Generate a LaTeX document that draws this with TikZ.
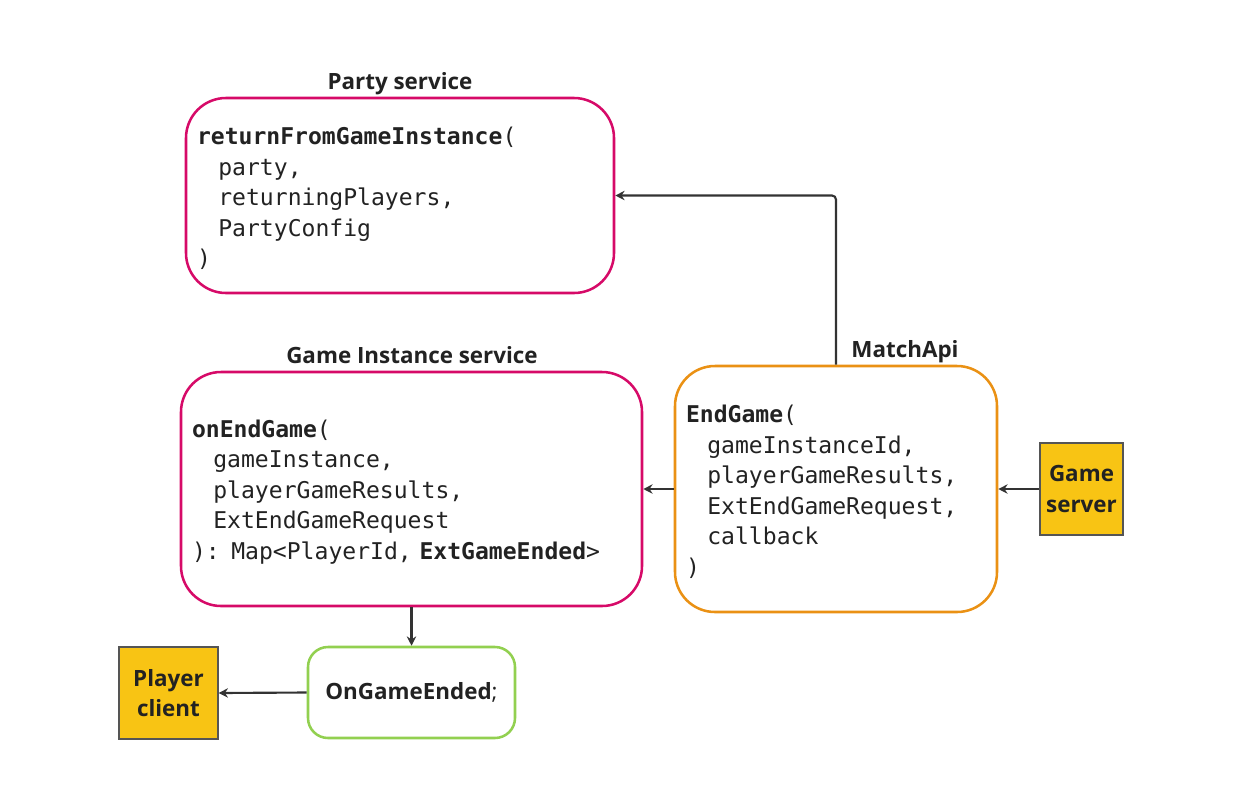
\documentclass[tikz,border=0pt]{standalone}
\usepackage{fontspec}
\setmainfont{Open Sans}
\setmonofont{DejaVu Sans Mono}
\usetikzlibrary{arrows.meta}

% code text and indent
\newcommand{\codefont}{\ttfamily\fontsize{17.3}{22.9}\selectfont}
\newcommand{\ind}{\hspace*{16pt}}
\newcommand{\firstline}{\rule{0pt}{17.5pt}}

\begin{document}
\begin{tikzpicture}[x=0.75pt,y=-0.75pt,
  svcbox/.style={draw, rounded corners=30pt, line width=1.9pt, align=left,
    inner xsep=8.25pt, inner ysep=0pt, font=\codefont, text=textdark},
  svctitle/.style={font=\bfseries\fontsize{16.8}{20}\selectfont, text=textdark},
  extbox/.style={draw=boxgray, fill=extyellow, line width=0.9pt, align=center,
    inner sep=0pt, minimum width=62.25pt, minimum height=69pt,
    font=\bfseries\fontsize{16.8}{23}\selectfont, text=textdark},
  conn/.style={-{Stealth[length=7pt,width=7pt]}, line width=1.6pt, draw=arrowgray}]

  % Define colors
  \definecolor{svcmagenta}{RGB}{214,10,104}
  \definecolor{apiorange}{RGB}{234,145,20}
  \definecolor{evgreen}{RGB}{146,208,80}
  \definecolor{extyellow}{RGB}{248,196,20}
  \definecolor{boxgray}{RGB}{85,85,85}
  \definecolor{arrowgray}{RGB}{51,51,51}
  \definecolor{textdark}{RGB}{34,34,34}

  \useasboundingbox (0,0) rectangle (1242,804);

  % Party service
  \node[svctitle] (partytitle) at (400,84) {Party service};
  \node[svcbox, draw=svcmagenta, minimum width=321pt, minimum height=146.25pt,
    text width=304.5pt] (party) at (400,195.5)
    {\firstline\textbf{returnFromGameInstance}(\\
     \ind party,\\
     \ind returningPlayers,\\
     \ind PartyConfig\\
     )};

  % Game Instance service
  \node[svctitle] (gititle) at (412,355) {Game Instance service};
  \node[svcbox, draw=svcmagenta, minimum width=345.75pt, minimum height=175.5pt,
    text width=329.25pt] (gi) at (411.5,489)
    {\firstline\textbf{onEndGame}(\\
     \ind gameInstance,\\
     \ind playerGameResults,\\
     \ind ExtEndGameRequest\\
     ): Map<PlayerId, \textbf{ExtGameEnded}>};

  % MatchApi
  \node[svctitle] (matchtitle) at (905,352) {MatchApi};
  \node[svcbox, draw=apiorange, minimum width=241.5pt, minimum height=184.5pt,
    text width=225pt] (match) at (836,489)
    {\firstline\textbf{EndGame}(\\
     \ind gameInstanceId,\\
     \ind playerGameResults,\\
     \ind ExtEndGameRequest,\\
     \ind callback\\
     )};

  % event sent to the client
  \node[draw=evgreen, rounded corners=15pt, line width=1.9pt, minimum width=155.25pt,
    minimum height=68.25pt, font=\fontsize{16.8}{20}\selectfont, text=textdark]
    (ended) at (411.5,692.5) {\textbf{OnGameEnded};};

  % external actors
  \node[extbox] (gserver) at (1081.5,489) {Game\\server};
  \node[extbox, minimum width=74.25pt] (pclient) at (168.5,693) {Player\\client};

  % calls
  \draw[conn, rounded corners=3pt] (match.north) |- (party.east);
  \draw[conn] (match.west) -- (gi.east);
  \draw[conn] (gserver.west) -- (match.east);
  \draw[conn] (gi.south) -- (ended.north);
  \draw[conn] (ended.west) -- (pclient.east);

\end{tikzpicture}
\end{document}
